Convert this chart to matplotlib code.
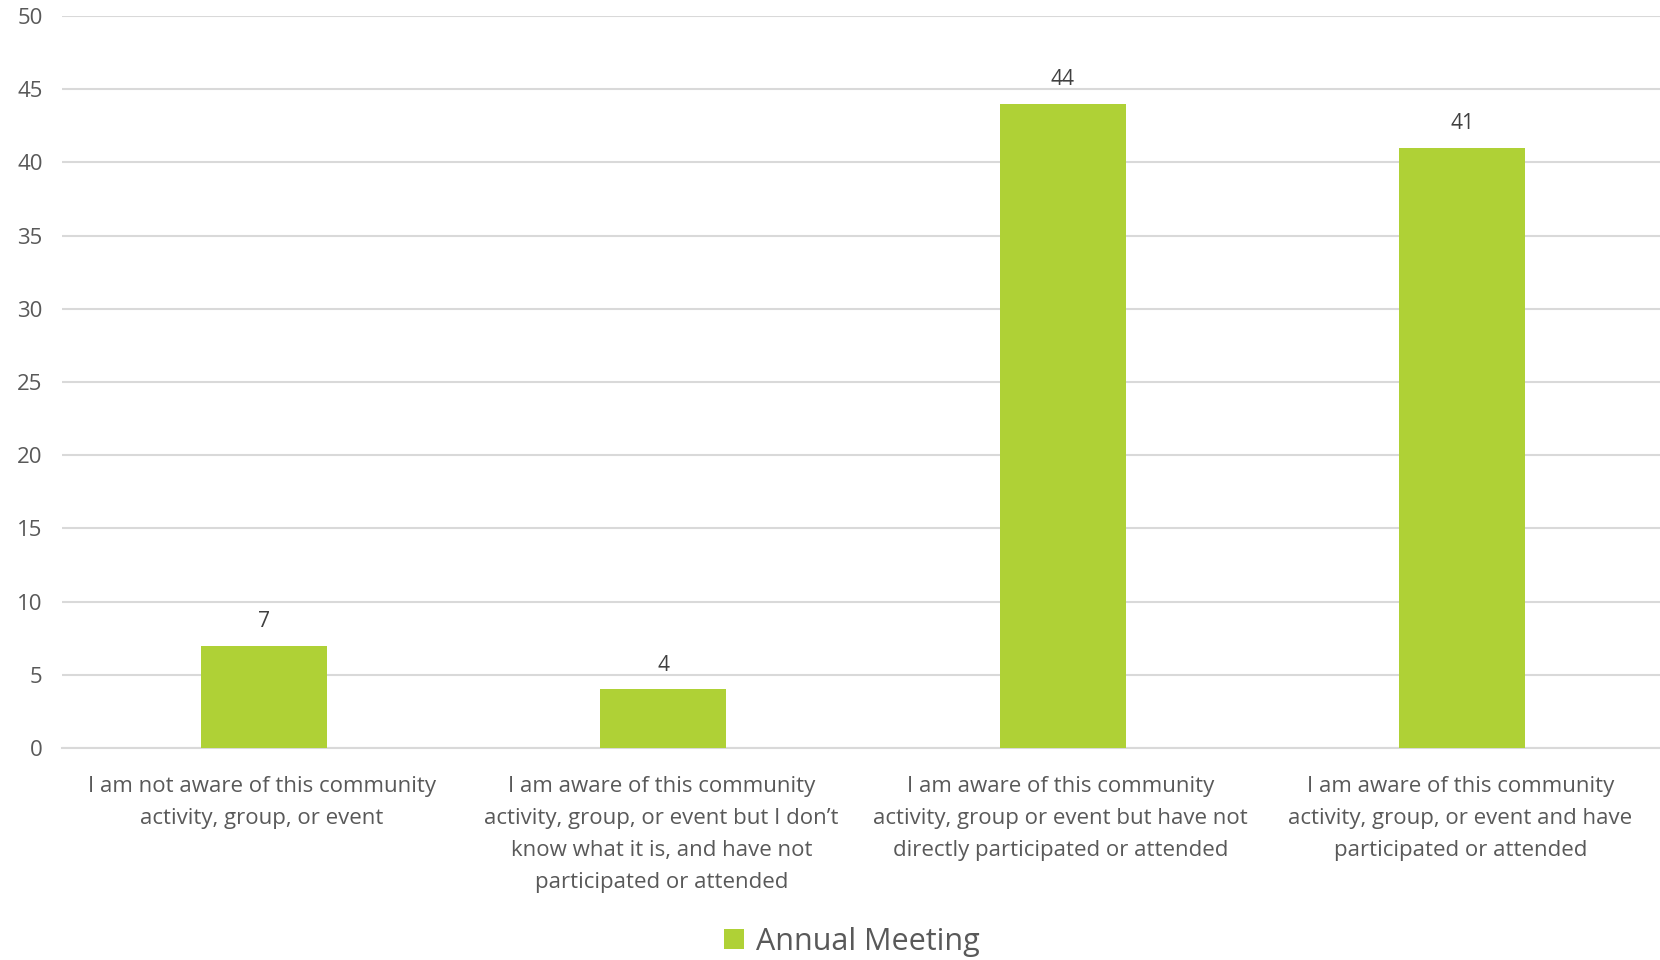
import matplotlib
matplotlib.use('Agg')
import matplotlib.pyplot as plt
import numpy as np

# Veriler
categories = [
    'I am not aware of this community\nactivity, group, or event',
    'I am aware of this community\nactivity, group, or event but I don\u2019t\nknow what it is, and have not\nparticipated or attended',
    'I am aware of this community\nactivity, group or event but have not\ndirectly participated or attended',
    'I am aware of this community\nactivity, group, or event and have\nparticipated or attended',
]
values = [7, 4, 44, 41]
series_name = 'Annual Meeting'
yticks = [0, 5, 10, 15, 20, 25, 30, 35, 40, 45, 50]

bar_color = '#AFD136'
grid_color = '#D9D9D9'
text_color = '#595959'

plt.rcParams['font.family'] = ['Open Sans', 'DejaVu Sans']

fig = plt.figure(figsize=(16.6, 9.6), dpi=100)
ax = fig.add_axes([62 / 1660, 1 - 748 / 960, 1 - 62 / 1660, (748 - 16) / 960])

x = np.arange(len(categories))
bars = ax.bar(x + 0.005, values, width=0.315, color=bar_color, label=series_name, zorder=3)

# Bar üstü değer etiketleri
for b, v in zip(bars, values):
    ax.annotate(str(v), (b.get_x() + b.get_width() / 2, v), xytext=(0, 10),
                textcoords='offset points', ha='center', va='bottom',
                fontsize=15, color='#404040')

ax.set_xlim(-0.5, len(categories) - 0.5)
ax.set_ylim(0, 50)
ax.set_yticks(yticks)
ax.yaxis.grid(True, color=grid_color, linewidth=1.5, zorder=0)
ax.set_axisbelow(True)
for s in ['top', 'right', 'left']:
    ax.spines[s].set_visible(False)
ax.spines['bottom'].set_color(grid_color)
ax.spines['bottom'].set_linewidth(1.5)
ax.tick_params(axis='y', length=0, labelsize=16, labelcolor=text_color, pad=14)
ax.tick_params(axis='x', length=0, labelsize=16, labelcolor=text_color, pad=20)
ax.set_xticks(x)
ax.set_xticklabels(categories, linespacing=1.7, va='top')

leg = fig.legend(handles=[bars], labels=[series_name], loc='center',
                 bbox_to_anchor=(0.513, 1 - 942 / 960), frameon=False,
                 fontsize=22, handlelength=0.65, handleheight=0.65,
                 handletextpad=0.4, labelcolor=text_color)

fig.savefig('out.png', dpi=100)
